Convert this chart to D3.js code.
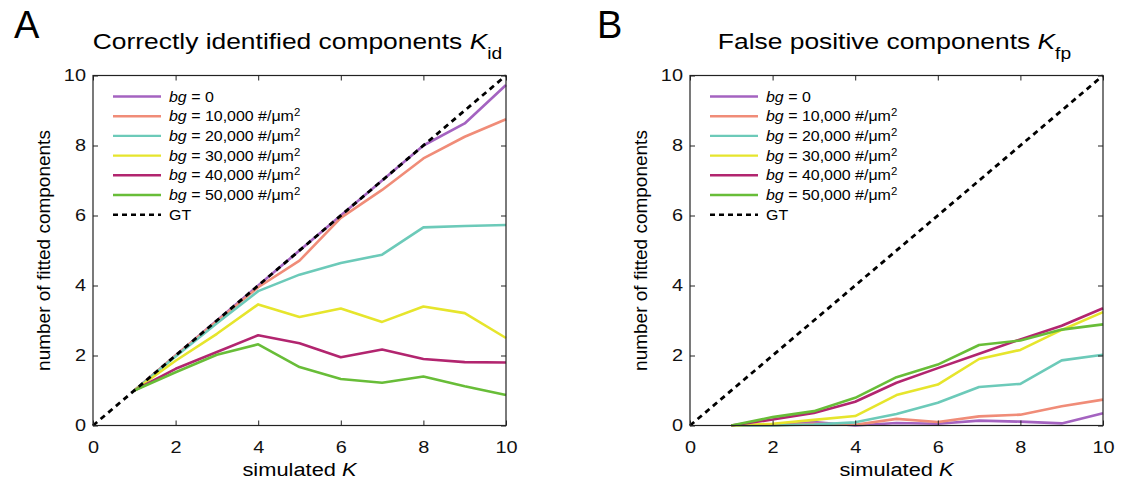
<!DOCTYPE html>
<html lang="en">
<head>
<meta charset="UTF-8" />
<title>Kid / Kfp</title>
<script src="https://d3js.org/d3.v7.min.js"></script>
<style>
  body { margin: 0; background: #fff; }
  svg { font-family: "Liberation Sans", Arial, sans-serif; }
  .axis text { font-size: 17px; fill: #111; }
  .axis path, .axis line { stroke: #222; }
</style>
</head>
<body>
<svg id="chart" width="1121" height="486"></svg>
<script>
// simulated K
const kValues = [1, 2, 3, 4, 5, 6, 7, 8, 9, 10];

const seriesLabels = ["0", "10,000", "20,000", "30,000", "40,000", "50,000"];
const seriesColors = ["#a463c0", "#f08c78", "#6ccab9", "#e6e52c", "#b2256f", "#68bd38"];

// panel A: correctly identified components
const kidBg0 = [1, 2, 3, 4, 5, 6, 7, 8, 8.63, 9.73];
const kidBg10k = [1, 2, 2.98, 3.95, 4.71, 5.93, 6.73, 7.63, 8.25, 8.75];
const kidBg20k = [1, 1.97, 2.92, 3.84, 4.31, 4.64, 4.88, 5.66, 5.7, 5.73];
const kidBg30k = [1, 1.85, 2.62, 3.46, 3.1, 3.34, 2.96, 3.4, 3.21, 2.5];
const kidBg40k = [1, 1.62, 2.1, 2.58, 2.35, 1.95, 2.17, 1.9, 1.81, 1.8];
const kidBg50k = [1, 1.52, 2.02, 2.32, 1.67, 1.33, 1.22, 1.4, 1.12, 0.87];

// panel B: false positive components
const kfpBg0 = [0, 0, 0.1, 0, 0.07, 0.05, 0.14, 0.11, 0.06, 0.35];
const kfpBg10k = [0, 0, 0.05, 0.02, 0.19, 0.1, 0.26, 0.31, 0.55, 0.74];
const kfpBg20k = [0, 0, 0.03, 0.09, 0.33, 0.65, 1.1, 1.19, 1.86, 2.02];
const kfpBg30k = [0, 0.05, 0.16, 0.27, 0.87, 1.17, 1.9, 2.16, 2.73, 3.24];
const kfpBg40k = [0, 0.17, 0.36, 0.68, 1.22, 1.64, 2.05, 2.46, 2.85, 3.35];
const kfpBg50k = [0, 0.24, 0.41, 0.79, 1.38, 1.74, 2.3, 2.43, 2.74, 2.89];

// ground truth diagonal
const gtK = [0, 10];

const axisTicks = [0, 2, 4, 6, 8, 10];

const svg = d3.select("#chart");

// the source figure is a bit wider than tall, text is stretched horizontally
function wideText(g, x, y, sx, size) {
  return g.append("text")
    .attr("transform", `translate(${x},${y}) scale(${sx},1)`)
    .style("font-size", size + "px");
}

function drawPanel(opts) {
  const { left, right, top, bottom, letterX, letter, title, sub, series } = opts;
  const x = d3.scaleLinear().domain([0, 10]).range([left, right]);
  const y = d3.scaleLinear().domain([0, 10]).range([bottom, top]);
  const g = svg.append("g");

  // panel letter
  wideText(g, letterX, 38, 1, 38).text(letter);

  // title
  const t = wideText(g, (left + right) / 2 - 2, 49, 1.2, 22)
    .attr("text-anchor", "middle");
  t.append("tspan").text(title + " ");
  t.append("tspan").style("font-style", "italic").text("K");
  t.append("tspan").attr("dy", 10).style("font-size", "16px").text(sub);

  // lines
  const line = d3.line()
    .x((d) => x(d[0]))
    .y((d) => y(d[1]));

  series.forEach((vals, i) => {
    g.append("path")
      .datum(kValues.map((k, j) => [k, vals[j]]))
      .attr("fill", "none")
      .attr("stroke", seriesColors[i])
      .attr("stroke-width", 2.6)
      .attr("stroke-linejoin", "round")
      .attr("d", line);
  });

  g.append("path")
    .datum(gtK.map((k) => [k, k]))
    .attr("fill", "none")
    .attr("stroke", "#000")
    .attr("stroke-width", 2.8)
    .attr("stroke-dasharray", "5.5,4.5")
    .attr("d", line);

  // axes: ticks inward on all four sides
  g.append("g").attr("class", "axis")
    .attr("transform", `translate(0,${bottom})`)
    .call(d3.axisBottom(x).tickValues(axisTicks).tickSizeInner(-5).tickSizeOuter(0).tickPadding(15))
    .call((a) => a.select(".domain").remove())
    .call((a) => a.selectAll("text").attr("transform", "scale(1.17,1)"));
  g.append("g").attr("class", "axis")
    .attr("transform", `translate(${left},0)`)
    .call(d3.axisLeft(y).tickValues(axisTicks).tickSizeInner(-5).tickSizeOuter(0).tickPadding(6))
    .call((a) => a.select(".domain").remove())
    .call((a) => a.selectAll("text").attr("transform", "scale(1.17,1)"));
  g.append("g").attr("class", "axis")
    .attr("transform", `translate(0,${top})`)
    .call(d3.axisTop(x).tickValues(axisTicks).tickSizeInner(-5).tickSizeOuter(0).tickFormat(""))
    .call((a) => a.select(".domain").remove());
  g.append("g").attr("class", "axis")
    .attr("transform", `translate(${right},0)`)
    .call(d3.axisRight(y).tickValues(axisTicks).tickSizeInner(-5).tickSizeOuter(0).tickFormat(""))
    .call((a) => a.select(".domain").remove());

  g.append("rect")
    .attr("x", left).attr("y", top)
    .attr("width", right - left).attr("height", bottom - top)
    .attr("fill", "none").attr("stroke", "#222").attr("stroke-width", 1.2);

  // axis labels
  const xl = wideText(g, (left + right) / 2, 476, 1.15, 19)
    .attr("text-anchor", "middle");
  xl.append("tspan").text("simulated ");
  xl.append("tspan").style("font-style", "italic").text("K");

  g.append("text")
    .attr("transform", `translate(${left - 43},${(top + bottom) / 2}) rotate(-90)`)
    .attr("text-anchor", "middle")
    .style("font-size", "19px")
    .text("number of fitted components");

  // legend
  const lx = left + 20;
  const ly = top + 21;
  const rowH = 19.7;
  const legendItems = seriesLabels.map((s, i) => ({ s, c: seriesColors[i], dash: null }));
  legendItems.push({ s: null, c: "#000", dash: "5,4" });
  legendItems.forEach((it, i) => {
    const yy = ly + i * rowH;
    g.append("line")
      .attr("x1", lx).attr("x2", lx + 48)
      .attr("y1", yy).attr("y2", yy)
      .attr("stroke", it.c)
      .attr("stroke-width", it.dash ? 2.6 : 2.4)
      .attr("stroke-dasharray", it.dash);
    const tx = wideText(g, lx + 56, yy + 5, 1.14, 14);
    if (it.s === null) {
      tx.text("GT");
    } else {
      tx.append("tspan").style("font-style", "italic").text("bg");
      tx.append("tspan").text(" = " + it.s + (it.s === "0" ? "" : " #/\u03bcm"));
      if (it.s !== "0") {
        tx.append("tspan").attr("dy", -5).style("font-size", "10px").text("2");
      }
    }
  });
}

drawPanel({
  left: 93, right: 506, top: 75.5, bottom: 425.5,
  letterX: 14, letter: "A",
  title: "Correctly identified components",
  sub: "id",
  series: [kidBg0, kidBg10k, kidBg20k, kidBg30k, kidBg40k, kidBg50k]
});

drawPanel({
  left: 690, right: 1103, top: 75.5, bottom: 425.5,
  letterX: 597, letter: "B",
  title: "False positive components",
  sub: "fp",
  series: [kfpBg0, kfpBg10k, kfpBg20k, kfpBg30k, kfpBg40k, kfpBg50k]
});
</script>
</body>
</html>
